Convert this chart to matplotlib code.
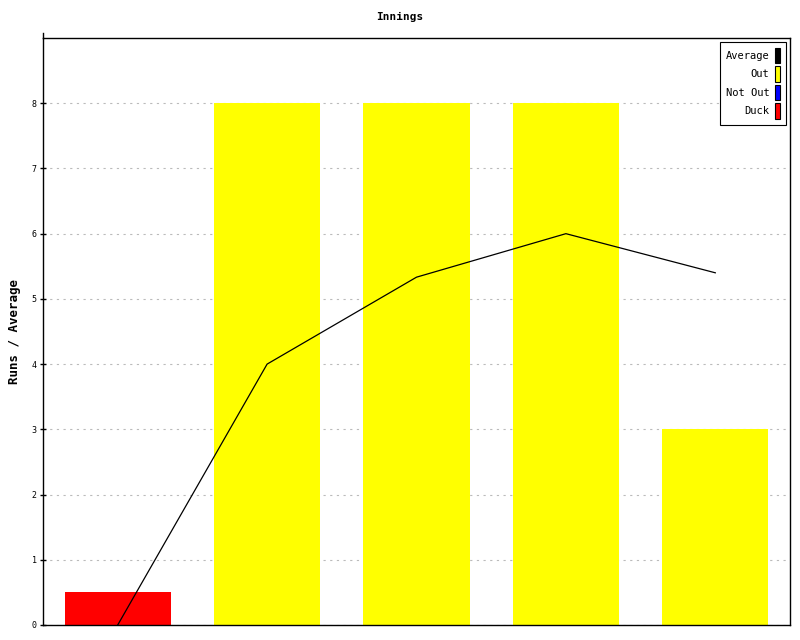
import matplotlib
matplotlib.use("Agg")
import matplotlib.pyplot as plt
from matplotlib.patches import Patch

innings = [1, 2, 3, 4, 5]
runs = [0.5, 8, 8, 8, 3]
kinds = ["Duck", "Out", "Out", "Out", "Out"]
average = [0, 4, 5.333, 6, 5.4]
yticks = [0, 1, 2, 3, 4, 5, 6, 7, 8]
colors = {"Average": "#000000", "Out": "#ffff00", "Not Out": "#0000ff", "Duck": "#ff0000"}

plt.rcParams["font.family"] = ["DejaVu Sans Mono"]

fig = plt.figure(figsize=(8, 6.4), dpi=100)
ax = fig.add_axes([43/800, 15/640, 747/800, 587/640])

x = list(range(len(innings)))
ax.bar(x, runs, width=0.71, color=[colors[k] for k in kinds], zorder=2)
ax.plot(x, average, color="black", linewidth=0.9, zorder=3)

ax.set_xlim(-0.5, len(innings) - 0.5)
ax.set_ylim(0, 9)
ax.set_yticks(yticks)
ax.set_yticklabels([str(t) for t in yticks], fontsize=6)
ax.set_xticks([])
ax.grid(axis="y", color="#bbbbbb", linestyle=(0, (2, 4)), linewidth=0.8, zorder=0)
ax.tick_params(axis="y", direction="inout", length=5, width=1, pad=2)
for s in ax.spines.values():
    s.set_linewidth(1)
ax.plot([0, 0], [1, 1.0085], transform=ax.transAxes, color="black", lw=1, clip_on=False)

ax.set_ylabel("Runs / Average", fontsize=9, fontweight="bold", labelpad=8)
fig.text(0.5, 1 - 17/640, "Innings", ha="center", va="center", fontsize=8, fontweight="bold")

handles = [Patch(facecolor=colors[k], edgecolor="black", linewidth=0.8) for k in ["Average", "Out", "Not Out", "Duck"]]
leg = ax.legend(handles, ["Average", "Out", "Not Out", "Duck"], loc="upper right",
                markerfirst=False, fontsize=7.5, handlelength=0.55, handleheight=1.9,
                handletextpad=0.5, labelspacing=0.3, borderpad=0.55, borderaxespad=0,
                fancybox=False, framealpha=1, edgecolor="black",
                bbox_to_anchor=(743/747, 583/587))
leg.get_frame().set_linewidth(0.8)

fig.savefig("out.png", dpi=100)
